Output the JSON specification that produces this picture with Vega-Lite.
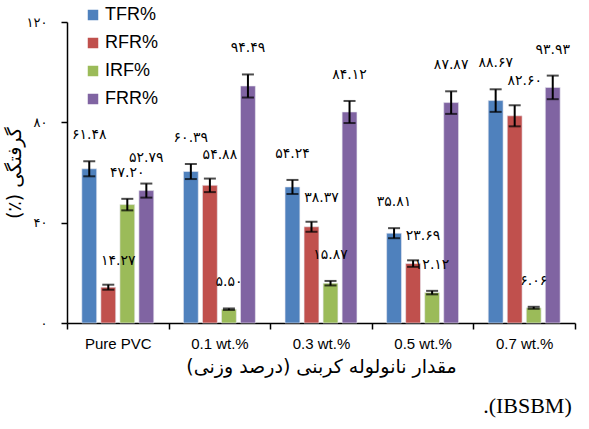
{
  "$schema": "https://vega.github.io/schema/vega-lite/v6.json",
  "autosize": "none",
  "width": 508,
  "height": 301,
  "padding": {"left": 67, "top": 22, "right": 14, "bottom": 106},
  "background": "white",
  "config": {
    "view": {"stroke": null},
    "axis": {"grid": false, "domainColor": "black", "tickColor": "black", "labelColor": "black", "titleColor": "black", "domainWidth": 1.5, "tickWidth": 1.5},
    "title": {"font": "Liberation Serif", "fontSize": 22, "fontWeight": "normal", "color": "black"}
  },
  "title": {"text": ".(IBSBM)", "orient": "bottom", "anchor": "end", "offset": 20, "dx": -4},
  "data": {"values": [
    {"cat": "Pure PVC", "series": "TFR%", "value": 61.48, "lo": 58.48, "hi": 64.48, "label": "۶۱.۴۸"},
    {"cat": "Pure PVC", "series": "RFR%", "value": 14.27, "lo": 13.27, "hi": 15.27, "label": "۱۴.۲۷"},
    {"cat": "Pure PVC", "series": "IRF%", "value": 47.2, "lo": 44.9, "hi": 49.5, "label": "۴۷.۲۰"},
    {"cat": "Pure PVC", "series": "FRR%", "value": 52.79, "lo": 49.99, "hi": 55.59, "label": "۵۲.۷۹"},
    {"cat": "0.1 wt.%", "series": "TFR%", "value": 60.39, "lo": 57.39, "hi": 63.39, "label": "۶۰.۳۹"},
    {"cat": "0.1 wt.%", "series": "RFR%", "value": 54.88, "lo": 52.18, "hi": 57.58, "label": "۵۴.۸۸"},
    {"cat": "0.1 wt.%", "series": "IRF%", "value": 5.5, "lo": 5.2, "hi": 5.8, "label": "۵.۵۰"},
    {"cat": "0.1 wt.%", "series": "FRR%", "value": 94.49, "lo": 89.89, "hi": 99.09, "label": "۹۴.۴۹"},
    {"cat": "0.3 wt.%", "series": "TFR%", "value": 54.24, "lo": 51.44, "hi": 57.04, "label": "۵۴.۲۴"},
    {"cat": "0.3 wt.%", "series": "RFR%", "value": 38.37, "lo": 36.37, "hi": 40.37, "label": "۳۸.۳۷"},
    {"cat": "0.3 wt.%", "series": "IRF%", "value": 15.87, "lo": 14.97, "hi": 16.77, "label": "۱۵.۸۷"},
    {"cat": "0.3 wt.%", "series": "FRR%", "value": 84.12, "lo": 79.72, "hi": 88.52, "label": "۸۴.۱۲"},
    {"cat": "0.5 wt.%", "series": "TFR%", "value": 35.81, "lo": 33.81, "hi": 37.81, "label": "۳۵.۸۱"},
    {"cat": "0.5 wt.%", "series": "RFR%", "value": 23.69, "lo": 22.39, "hi": 24.99, "label": "۲۳.۶۹"},
    {"cat": "0.5 wt.%", "series": "IRF%", "value": 12.12, "lo": 11.42, "hi": 12.82, "label": "۱۲.۱۲"},
    {"cat": "0.5 wt.%", "series": "FRR%", "value": 87.87, "lo": 83.37, "hi": 92.37, "label": "۸۷.۸۷"},
    {"cat": "0.7 wt.%", "series": "TFR%", "value": 88.67, "lo": 84.17, "hi": 93.17, "label": "۸۸.۶۷"},
    {"cat": "0.7 wt.%", "series": "RFR%", "value": 82.6, "lo": 78.4, "hi": 86.8, "label": "۸۲.۶۰"},
    {"cat": "0.7 wt.%", "series": "IRF%", "value": 6.06, "lo": 5.66, "hi": 6.46, "label": "۶.۰۶"},
    {"cat": "0.7 wt.%", "series": "FRR%", "value": 93.93, "lo": 89.23, "hi": 98.63, "label": "۹۳.۹۳"}
  ]},
  "encoding": {
    "x": {
      "field": "cat", "type": "nominal", "sort": null,
      "scale": {"paddingInner": 0, "paddingOuter": 0},
      "axis": {
        "title": "\u200Fمقدار نانولوله کربنی (درصد وزنی)\u200F",
        "titleFont": "DejaVu Sans", "titleFontSize": 19, "titleFontWeight": "normal", "titlePadding": 6,
        "labelAngle": 0, "labelFont": "Liberation Sans", "labelFontSize": 15, "labelPadding": 7,
        "tickBand": "extent", "tickSize": 6
      }
    },
    "xOffset": {
      "field": "series", "type": "nominal", "sort": ["TFR%", "RFR%", "IRF%", "FRR%"],
      "scale": {"paddingInner": 0.22, "paddingOuter": 0.78}
    }
  },
  "layer": [
    {
      "mark": {"type": "bar", "stroke": "#e8e8f0", "strokeWidth": 0.6},
      "encoding": {
        "y": {
          "field": "value", "type": "quantitative",
          "scale": {"domain": [0, 120]},
          "axis": {
            "values": [0, 40, 80, 120],
            "labelExpr": "replace(replace(replace(replace(replace(datum.label,'0','۰'),'1','۱'),'2','۲'),'4','۴'),'8','۸')",
            "labelFont": "DejaVu Sans", "labelFontSize": 13, "labelPadding": 14, "tickSize": 6,
            "title": "\u200Fگرفتگی (٪)\u200F", "titleFont": "DejaVu Sans", "titleFontSize": 19, "titleFontWeight": "normal", "titlePadding": 2
          }
        },
        "color": {
          "field": "series", "type": "nominal", "sort": ["TFR%", "RFR%", "IRF%", "FRR%"],
          "scale": {"domain": ["TFR%", "RFR%", "IRF%", "FRR%"], "range": ["#4F81BD", "#C0504D", "#9BBB59", "#8064A2"]},
          "legend": {
            "orient": "none", "legendX": 17, "legendY": -16, "title": null,
            "symbolType": "square", "symbolSize": 110, "symbolStrokeWidth": 0,
            "labelFont": "Liberation Sans", "labelFontSize": 18, "labelColor": "black",
            "rowPadding": 10, "labelOffset": 3
          }
        }
      }
    },
    {
      "mark": {"type": "rule", "color": "black", "strokeWidth": 2},
      "encoding": {"y": {"field": "lo", "type": "quantitative"}, "y2": {"field": "hi"}}
    },
    {
      "mark": {"type": "tick", "color": "black", "thickness": 2, "size": 12, "orient": "horizontal"},
      "encoding": {"y": {"field": "lo", "type": "quantitative"}}
    },
    {
      "mark": {"type": "tick", "color": "black", "thickness": 2, "size": 12, "orient": "horizontal"},
      "encoding": {"y": {"field": "hi", "type": "quantitative"}}
    },
    {
      "transform": [{"filter": "datum.series != 'RFR%'"}],
      "mark": {"type": "text", "font": "DejaVu Sans", "fontSize": 14, "color": "black", "dy": -26},
      "encoding": {"y": {"field": "hi", "type": "quantitative"}, "text": {"field": "label"}}
    },
    {
      "transform": [{"filter": "datum.series == 'RFR%'"}],
      "mark": {"type": "text", "font": "DejaVu Sans", "fontSize": 14, "color": "black", "dy": -24, "dx": 10},
      "encoding": {"y": {"field": "hi", "type": "quantitative"}, "text": {"field": "label"}}
    }
  ]
}
